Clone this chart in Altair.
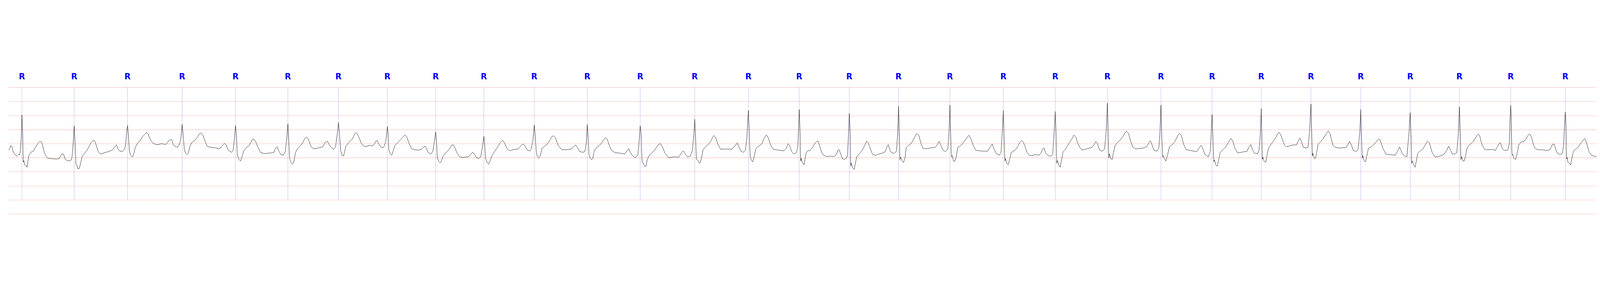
import altair as alt
import pandas as pd

# R-peak annotation times (s)
r_times = [0.168, 0.828, 1.502, 2.192, 2.866, 3.528, 4.167, 4.785, 5.395, 6.004,
           6.641, 7.310, 7.979, 8.668, 9.346, 9.988, 10.621, 11.243, 11.892, 12.567,
           13.223, 13.882, 14.558, 15.204, 15.825, 16.453, 17.082, 17.707, 18.329,
           18.977, 19.667]

seg_a = [(0.000, -0.23), (0.016, -0.17), (0.028, -0.07), (0.042, -0.115), (0.058, -0.30),
         (0.076, -0.37), (0.102, -0.45), (0.124, -0.385), (0.138, -0.40), (0.148, -0.28),
         (0.160, 0.30), (0.168, 1.02), (0.178, 0.30), (0.184, -0.66), (0.192, -0.60),
         (0.202, -0.75), (0.220, -0.78), (0.232, -0.84), (0.243, -0.64), (0.258, -0.40),
         (0.279, -0.31), (0.315, -0.26), (0.339, -0.13), (0.375, 0.03), (0.393, 0.08),
         (0.409, 0.07), (0.426, -0.02), (0.447, -0.28), (0.471, -0.44), (0.495, -0.52),
         (0.531, -0.53), (0.603, -0.55), (0.639, -0.53), (0.657, -0.44), (0.675, -0.36),
         (0.693, -0.37), (0.714, -0.55), (0.747, -0.62), (0.771, -0.60), (0.789, -0.585),
         (0.801, -0.48), (0.813, -0.06), (0.828, 0.63), (0.841, -0.06), (0.850, -0.73),
         (0.861, -0.765), (0.873, -0.89), (0.891, -0.89), (0.909, -0.71), (0.927, -0.46),
         (0.951, -0.37), (0.993, -0.22), (1.023, -0.06), (1.045, 0.05), (1.071, 0.13),
         (1.089, 0.085), (1.107, -0.06), (1.131, -0.28), (1.161, -0.37), (1.203, -0.33),
         (1.263, -0.28), (1.311, -0.23), (1.341, -0.115), (1.361, -0.04), (1.383, -0.19),
         (1.401, -0.26), (1.437, -0.28), (1.467, -0.19), (1.479, 0.01), (1.491, 0.45),
         (1.502, 0.65), (1.513, 0.30), (1.525, -0.26), (1.539, -0.40), (1.557, -0.46),
         (1.569, -0.46), (1.581, -0.35), (1.599, -0.15), (1.623, -0.005), (1.659, 0.10),
         (1.695, 0.26), (1.743, 0.40), (1.761, 0.34)]

seg_b = [(1.768, 0.288), (1.786, 0.174), (1.804, 0.086), (1.822, 0.015), (1.848, -0.015),
         (1.884, -0.04), (1.920, -0.003), (1.955, -0.01), (1.987, -0.03), (1.999, 0.01),
         (2.023, 0.10), (2.048, 0.15), (2.062, 0.13), (2.080, -0.04), (2.106, -0.10),
         (2.133, -0.13), (2.147, -0.08), (2.165, 0.035), (2.178, 0.26), (2.192, 0.69),
         (2.204, 0.34), (2.219, -0.19), (2.236, -0.34), (2.252, -0.39), (2.270, -0.34),
         (2.288, -0.116), (2.311, 0.035), (2.347, 0.10), (2.382, 0.22), (2.412, 0.35),
         (2.430, 0.38), (2.453, 0.31), (2.480, 0.10), (2.507, -0.08), (2.542, -0.13),
         (2.596, -0.14), (2.667, -0.18), (2.694, -0.09), (2.726, 0.015), (2.747, -0.04),
         (2.774, -0.23), (2.818, -0.31), (2.836, -0.24), (2.849, 0.086), (2.866, 0.64),
         (2.877, 0.34), (2.889, -0.41), (2.907, -0.545), (2.929, -0.62), (2.948, -0.47),
         (2.970, -0.255), (3.005, -0.14), (3.041, -0.05), (3.076, 0.136), (3.098, 0.16),
         (3.121, 0.07), (3.147, -0.116), (3.183, -0.32), (3.236, -0.356), (3.308, -0.33),
         (3.348, -0.32), (3.370, -0.18), (3.393, -0.11), (3.414, -0.27), (3.441, -0.39),
         (3.468, -0.41), (3.495, -0.29), (3.512, 0.136), (3.528, 0.70), (3.539, 0.136),
         (3.548, -0.495), (3.566, -0.67), (3.584, -0.73), (3.601, -0.67), (3.624, -0.32),
         (3.646, -0.19), (3.681, -0.09), (3.717, 0.035), (3.744, 0.20), (3.761, 0.24),
         (3.779, 0.19), (3.824, -0.116), (3.859, -0.19), (3.931, -0.14), (3.966, -0.116),
         (3.998, 0.035), (4.028, 0.086), (4.046, -0.015), (4.073, -0.13), (4.105, -0.20),
         (4.130, -0.116), (4.148, 0.26), (4.167, 0.755), (4.180, 0.34), (4.194, -0.24),
         (4.212, -0.41), (4.230, -0.44), (4.242, -0.32), (4.260, -0.09), (4.295, 0.035),
         (4.340, 0.16), (4.372, 0.34), (4.393, 0.39), (4.420, 0.26), (4.456, 0.01),
         (4.491, -0.10)]

seg_c = [(4.523, -0.09), (4.559, -0.066), (4.598, -0.08), (4.621, -0.015), (4.644, 0.10),
         (4.656, 0.11), (4.674, 0.0), (4.701, -0.116), (4.728, -0.15), (4.745, -0.09),
         (4.763, 0.06), (4.776, 0.39), (4.785, 0.61), (4.793, 0.39), (4.804, -0.22),
         (4.822, -0.37), (4.840, -0.41), (4.861, -0.24), (4.879, -0.066), (4.906, 0.01),
         (4.932, 0.086), (4.968, 0.19), (4.995, 0.275), (5.007, 0.31), (5.030, 0.24),
         (5.057, 0.02), (5.092, -0.18), (5.128, -0.217), (5.181, -0.23), (5.217, -0.20),
         (5.244, -0.116), (5.261, -0.086), (5.279, -0.17), (5.302, -0.32), (5.333, -0.37),
         (5.359, -0.28), (5.381, 0.136), (5.395, 0.42), (5.406, 0.086), (5.416, -0.51),
         (5.434, -0.62), (5.452, -0.68), (5.470, -0.60), (5.484, -0.47), (5.511, -0.356),
         (5.537, -0.29), (5.573, -0.17), (5.600, -0.05), (5.617, -0.045), (5.635, -0.116),
         (5.662, -0.32), (5.698, -0.47), (5.751, -0.49), (5.813, -0.46), (5.843, -0.37),
         (5.861, -0.30), (5.884, -0.37), (5.911, -0.495), (5.938, -0.53), (5.964, -0.47),
         (5.986, -0.116), (6.004, 0.26), (6.014, -0.015), (6.025, -0.52), (6.045, -0.67),
         (6.064, -0.73), (6.089, -0.57), (6.107, -0.42), (6.142, -0.27), (6.178, -0.116),
         (6.214, 0.048), (6.240, 0.12), (6.263, 0.035), (6.294, -0.17), (6.329, -0.255),
         (6.392, -0.20), (6.436, -0.19), (6.481, -0.05), (6.502, -0.01), (6.525, -0.09),
         (6.552, -0.23), (6.584, -0.26), (6.605, -0.17), (6.623, 0.136), (6.641, 0.667),
         (6.653, 0.26), (6.667, -0.34), (6.685, -0.47), (6.698, -0.51), (6.716, -0.44),
         (6.739, -0.17), (6.769, -0.10), (6.810, 0.0), (6.836, 0.12), (6.863, 0.25),
         (6.881, 0.28), (6.908, 0.21), (6.943, -0.066), (6.988, -0.217), (7.050, -0.217),
         (7.112, -0.19), (7.143, -0.09), (7.166, -0.05), (7.187, -0.14), (7.214, -0.28),
         (7.255, -0.31), (7.281, -0.27), (7.299, 0.06)]

seg_d = [(7.310, 0.68), (7.322, 0.26), (7.331, -0.37), (7.349, -0.53), (7.367, -0.57),
         (7.379, -0.52), (7.393, -0.32), (7.415, -0.18), (7.447, -0.10), (7.482, -0.015),
         (7.509, 0.10), (7.530, 0.18), (7.545, 0.21), (7.562, 0.16), (7.589, -0.066),
         (7.616, -0.24), (7.660, -0.32), (7.732, -0.34), (7.785, -0.37), (7.812, -0.255),
         (7.833, -0.18), (7.856, -0.32), (7.883, -0.43), (7.918, -0.50), (7.949, -0.41),
         (7.966, 0.136), (7.979, 0.63), (7.990, 0.39), (8.002, -0.62), (8.020, -0.72),
         (8.038, -0.81), (8.052, -0.80), (8.070, -0.55), (8.096, -0.41), (8.123, -0.34),
         (8.159, -0.24), (8.194, -0.09), (8.216, -0.015), (8.235, 0.0), (8.257, -0.10),
         (8.292, -0.34), (8.337, -0.495), (8.408, -0.47), (8.467, -0.48), (8.497, -0.34),
         (8.523, -0.255), (8.550, -0.37), (8.577, -0.47), (8.612, -0.44), (8.639, -0.24),
         (8.657, 0.39), (8.668, 0.87), (8.678, 0.26), (8.689, -0.55), (8.710, -0.60),
         (8.725, -0.69), (8.737, -0.68), (8.755, -0.495), (8.773, -0.217), (8.799, -0.13),
         (8.835, -0.04), (8.870, 0.086), (8.897, 0.24), (8.910, 0.29), (8.933, 0.21),
         (8.960, -0.015), (8.995, -0.20), (9.066, -0.19), (9.138, -0.20), (9.173, -0.09),
         (9.205, 0.023), (9.226, -0.116), (9.253, -0.27), (9.280, -0.31), (9.307, -0.24),
         (9.324, 0.136), (9.346, 1.18), (9.360, 0.136), (9.369, -0.48), (9.387, -0.60),
         (9.399, -0.65), (9.413, -0.52), (9.440, -0.19), (9.467, -0.10), (9.502, -0.04),
         (9.520, 0.02), (9.547, 0.21), (9.573, 0.31), (9.600, 0.19), (9.627, -0.066),
         (9.662, -0.20), (9.725, -0.23), (9.796, -0.255), (9.823, -0.17), (9.849, 0.0),
         (9.867, -0.066), (9.894, -0.29), (9.921, -0.37), (9.951, -0.32), (9.970, -0.116),
         (9.988, 1.21), (9.999, 0.39), (10.006, -0.62), (10.013, -0.52), (10.027, -0.67),
         (10.049, -0.75), (10.063, -0.52), (10.077, -0.32)]

seg_e = [(10.095, -0.255), (10.121, -0.24), (10.148, -0.17), (10.175, -0.04), (10.202, 0.06),
         (10.214, 0.09), (10.228, 0.085), (10.250, -0.116), (10.273, -0.32), (10.299, -0.42),
         (10.335, -0.457), (10.388, -0.445), (10.433, -0.457), (10.460, -0.37), (10.477, -0.23),
         (10.492, -0.217), (10.509, -0.34), (10.531, -0.52), (10.557, -0.565), (10.584, -0.52),
         (10.598, -0.42), (10.611, 0.39), (10.621, 1.076), (10.632, 0.39), (10.638, -0.80),
         (10.646, -0.68), (10.664, -0.87), (10.682, -0.92), (10.700, -0.67), (10.714, -0.47),
         (10.735, -0.39), (10.762, -0.32), (10.794, -0.18), (10.819, -0.04), (10.842, 0.086),
         (10.860, 0.023), (10.887, -0.19), (10.913, -0.37), (10.949, -0.42), (10.993, -0.37),
         (11.038, -0.34), (11.073, -0.29), (11.100, -0.09), (11.113, -0.035), (11.132, -0.217),
         (11.157, -0.33), (11.189, -0.34), (11.216, -0.27), (11.232, 0.39), (11.243, 1.33),
         (11.253, 0.39), (11.260, -0.57), (11.271, -0.48), (11.287, -0.62), (11.305, -0.67),
         (11.323, -0.52), (11.340, -0.14), (11.367, -0.066), (11.403, 0.01), (11.429, 0.136),
         (11.456, 0.29), (11.474, 0.36), (11.501, 0.29), (11.527, -0.015), (11.554, -0.17),
         (11.599, -0.18), (11.652, -0.146), (11.705, -0.14), (11.732, -0.04), (11.755, 0.08),
         (11.776, -0.04), (11.803, -0.23), (11.833, -0.29), (11.865, -0.19), (11.880, 0.39),
         (11.892, 1.37), (11.901, 0.39), (11.910, -0.47), (11.922, -0.42), (11.937, -0.62),
         (11.955, -0.62), (11.972, -0.47), (11.990, -0.14), (12.017, -0.09), (12.052, 0.0),
         (12.088, 0.136), (12.115, 0.24), (12.132, 0.30), (12.159, 0.16), (12.186, -0.066),
         (12.221, -0.24), (12.275, -0.26), (12.364, -0.27), (12.396, -0.14), (12.426, -0.01),
         (12.453, -0.217), (12.479, -0.356), (12.515, -0.41), (12.538, -0.32), (12.552, 0.39),
         (12.567, 1.18), (12.577, 0.136), (12.586, -0.62), (12.595, -0.53), (12.613, -0.72),
         (12.631, -0.74), (12.649, -0.52), (12.666, -0.32), (12.693, -0.27), (12.729, -0.19),
         (12.755, -0.066), (12.773, 0.035), (12.800, 0.116), (12.818, 0.06), (12.841, -0.10)]

seg_f = [(12.867, -0.32), (12.894, -0.41), (12.921, -0.43), (12.974, -0.39), (13.019, -0.41),
         (13.045, -0.32), (13.063, -0.19), (13.081, -0.154), (13.102, -0.34), (13.134, -0.43),
         (13.170, -0.445), (13.191, -0.37), (13.205, 0.26), (13.223, 1.146), (13.234, 0.26),
         (13.241, -0.70), (13.250, -0.60), (13.268, -0.77), (13.285, -0.84), (13.303, -0.57),
         (13.321, -0.29), (13.348, -0.217), (13.374, -0.09), (13.401, 0.035), (13.437, 0.19),
         (13.458, 0.305), (13.481, 0.24), (13.508, 0.01), (13.535, -0.14), (13.561, -0.23),
         (13.615, -0.19), (13.686, -0.13), (13.713, -0.04), (13.736, 0.073), (13.757, -0.015),
         (13.784, -0.23), (13.810, -0.27), (13.846, -0.20), (13.864, 0.39), (13.882, 1.44),
         (13.892, 0.26), (13.899, -0.51), (13.908, -0.36), (13.926, -0.545), (13.944, -0.56),
         (13.956, -0.34), (13.979, -0.066), (14.006, 0.035), (14.042, 0.12), (14.077, 0.25),
         (14.104, 0.39), (14.125, 0.44), (14.149, 0.36), (14.175, 0.086), (14.202, -0.116),
         (14.238, -0.19), (14.291, -0.167), (14.344, -0.154), (14.380, -0.10), (14.407, 0.035),
         (14.424, 0.10), (14.442, -0.015), (14.469, -0.23), (14.505, -0.27), (14.531, -0.167),
         (14.545, 0.39), (14.558, 1.37), (14.569, 0.26), (14.579, -0.48), (14.586, -0.42),
         (14.602, -0.545), (14.620, -0.616), (14.638, -0.44), (14.665, -0.116), (14.700, -0.04),
         (14.736, 0.086), (14.768, 0.275), (14.793, 0.37), (14.816, 0.29), (14.843, -0.015),
         (14.878, -0.217), (14.949, -0.255), (15.012, -0.28), (15.038, -0.167), (15.065, -0.06),
         (15.083, -0.14), (15.110, -0.37), (15.154, -0.47), (15.181, -0.29), (15.193, 0.39),
         (15.204, 1.04), (15.216, 0.136), (15.225, -0.646), (15.234, -0.58), (15.252, -0.76),
         (15.270, -0.80), (15.288, -0.57), (15.305, -0.32), (15.341, -0.217), (15.377, -0.116),
         (15.412, 0.06), (15.443, 0.19), (15.466, 0.086), (15.492, -0.167), (15.528, -0.33),
         (15.604, -0.29)]

seg_g = [(15.647, -0.27), (15.665, -0.14), (15.693, -0.035), (15.715, -0.217), (15.742, -0.34),
         (15.779, -0.356), (15.797, -0.24), (15.812, 0.26), (15.825, 1.25), (15.834, 0.136),
         (15.839, -0.56), (15.848, -0.48), (15.861, -0.62), (15.883, -0.66), (15.898, -0.42),
         (15.916, -0.167), (15.944, -0.04), (15.971, 0.06), (16.008, 0.21), (16.035, 0.36),
         (16.050, 0.40), (16.072, 0.31), (16.090, 0.16), (16.117, -0.04), (16.145, -0.116),
         (16.182, -0.08), (16.237, -0.04), (16.269, -0.053), (16.291, 0.086), (16.313, 0.20),
         (16.332, 0.086), (16.355, -0.116), (16.383, -0.16), (16.416, -0.13), (16.434, 0.39),
         (16.453, 1.41), (16.464, 0.26), (16.471, -0.44), (16.478, -0.34), (16.493, -0.51),
         (16.511, -0.52), (16.526, -0.32), (16.544, -0.015), (16.575, 0.073), (16.612, 0.19),
         (16.648, 0.36), (16.672, 0.45), (16.694, 0.36), (16.731, -0.066), (16.767, -0.14),
         (16.822, -0.154), (16.896, -0.14), (16.923, -0.015), (16.941, 0.08), (16.965, -0.053),
         (16.987, -0.24), (17.024, -0.28), (17.048, -0.217), (17.070, 0.39), (17.082, 1.217),
         (17.093, 0.136), (17.101, -0.52), (17.108, -0.42), (17.124, -0.60), (17.143, -0.65),
         (17.156, -0.47), (17.179, -0.167), (17.216, -0.116), (17.262, 0.01), (17.289, 0.11),
         (17.308, 0.17), (17.326, 0.136), (17.362, -0.167), (17.399, -0.37), (17.445, -0.39),
         (17.518, -0.41), (17.546, -0.27), (17.573, -0.12), (17.591, -0.24), (17.610, -0.37),
         (17.637, -0.44), (17.665, -0.47), (17.692, 0.39), (17.707, 1.10), (17.720, 0.136),
         (17.725, -0.70), (17.734, -0.61), (17.747, -0.72), (17.769, -0.84), (17.784, -0.62),
         (17.802, -0.34), (17.829, -0.27), (17.866, -0.19), (17.903, -0.015), (17.926, 0.09),
         (17.948, 0.035), (17.985, -0.32), (18.022, -0.48), (18.077, -0.445), (18.131, -0.39),
         (18.168, -0.24), (18.192, -0.09), (18.214, -0.217), (18.241, -0.37), (18.269, -0.37),
         (18.296, -0.32), (18.315, 0.39), (18.329, 1.305), (18.342, 0.136), (18.347, -0.56),
         (18.357, -0.46), (18.369, -0.61), (18.388, -0.62), (18.406, -0.445), (18.424, -0.167),
         (18.448, -0.066)]

seg_h = [(18.475, 0.0), (18.507, 0.08), (18.528, 0.19), (18.555, 0.30), (18.570, 0.34),
         (18.586, 0.265), (18.602, 0.08), (18.618, -0.06), (18.645, -0.19), (18.677, -0.22),
         (18.741, -0.205), (18.783, -0.24), (18.805, -0.13), (18.828, -0.02), (18.844, 0.04),
         (18.858, -0.06), (18.874, -0.19), (18.895, -0.24), (18.932, -0.24), (18.948, -0.17),
         (18.959, 0.01), (18.970, 1.02), (18.977, 1.37), (18.983, 1.02), (18.991, -0.24),
         (18.996, -0.42), (19.004, -0.385), (19.018, -0.51), (19.037, -0.57), (19.052, -0.42),
         (19.065, -0.24), (19.076, -0.06), (19.092, 0.01), (19.113, 0.05), (19.145, 0.08),
         (19.166, 0.155), (19.188, 0.265), (19.209, 0.34), (19.230, 0.30), (19.246, 0.155),
         (19.262, -0.02), (19.284, -0.17), (19.326, -0.22), (19.379, -0.22), (19.443, -0.24),
         (19.475, -0.205), (19.491, -0.10), (19.507, -0.02), (19.525, -0.017), (19.539, -0.13),
         (19.555, -0.28), (19.571, -0.35), (19.598, -0.385), (19.629, -0.35), (19.645, -0.06),
         (19.656, 0.66), (19.667, 1.125), (19.675, 0.66), (19.683, -0.55), (19.690, -0.49),
         (19.699, -0.66), (19.715, -0.69), (19.733, -0.765), (19.746, -0.57), (19.762, -0.35),
         (19.778, -0.24), (19.800, -0.19), (19.826, -0.13), (19.853, -0.02), (19.880, 0.08),
         (19.909, 0.185), (19.922, 0.14), (19.943, -0.06), (19.965, -0.28), (19.997, -0.42),
         (20.029, -0.44), (20.060, -0.46)]

# big-box grid: 0.2 s by 0.5 mV
x_grid = [round(0.2 * i, 1) for i in range(101)]
y_grid = [-2.5, -2.0, -1.5, -1.0, -0.5, 0.0, 0.5, 1.0, 1.5, 2.0]

trace = pd.DataFrame(seg_a + seg_b + seg_c + seg_d + seg_e + seg_f + seg_g + seg_h,
                     columns=["t", "mv"])
beats = pd.DataFrame({"t": r_times})

x_scale = alt.Scale(domain=[0, 20.06], nice=False, zero=False)
y_scale = alt.Scale(domain=[-2.5, 2.5], nice=False, zero=False)

grid_style = dict(grid=True, gridColor="#ff0000", gridOpacity=0.25, gridWidth=2,
                  labels=False, ticks=False, domain=False, title=None)

ecg = alt.Chart(trace).mark_line(color="black", strokeWidth=1.5).encode(
    x=alt.X("t:Q", scale=x_scale, axis=alt.Axis(values=x_grid, **grid_style)),
    y=alt.Y("mv:Q", scale=y_scale, axis=alt.Axis(values=y_grid, **grid_style)),
)

r_lines = alt.Chart(beats).mark_rule(color="#0000ff", opacity=0.5, strokeWidth=1).encode(
    x=alt.X("t:Q", scale=x_scale, axis=None),
    y=alt.datum(2.0),
    y2=alt.datum(-2.0),
)

r_labels = alt.Chart(beats).mark_text(
    text="R", color="#0000ff", font="DejaVu Sans", fontWeight="bold",
    fontSize=38, align="center", baseline="alphabetic"
).encode(
    x=alt.X("t:Q", scale=x_scale, axis=None),
    y=alt.value(28),
)

chart = alt.layer(r_lines, ecg, r_labels).properties(
    width=7476,
    height=662,
    padding={"left": 26, "top": 36, "right": 2, "bottom": 4},
    autosize=alt.AutoSizeParams(type="none"),
    background="white",
).configure_view(stroke=None)

chart.save("out.html", embed_options={"renderer": "svg", "actions": False})
